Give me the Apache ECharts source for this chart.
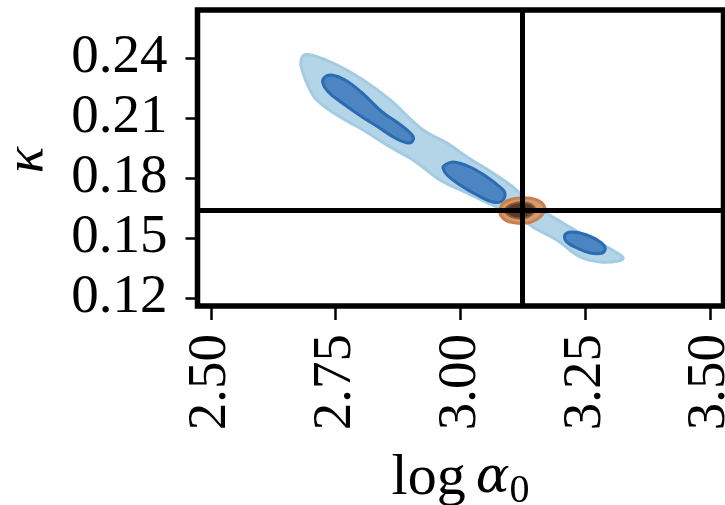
<!DOCTYPE html>
<html>
<head>
<meta charset="utf-8">
<script src="https://cdn.jsdelivr.net/npm/echarts@6/dist/echarts.min.js"></script>
<style>
  html, body { margin: 0; padding: 0; background: #fff; }
  #chart { width: 725px; height: 505px; }
</style>
</head>
<body>
<div id="chart"></div>
<script>
// tick positions
const xTicks = [2.5, 2.75, 3.0, 3.25, 3.5];
const yTicks = [0.12, 0.15, 0.18, 0.21, 0.24];

// reference point (crosshair)
const refX = 3.123;
const refY = 0.164;

// outer (light) contour of the posterior
const bandOuter = [
  [2.686, 0.2415], [2.708, 0.241], [2.753, 0.2365], [2.805, 0.229], [2.859, 0.219],
  [2.925, 0.204], [2.973, 0.1975], [3.013, 0.1905], [3.065, 0.1825], [3.105, 0.1755],
  [3.133, 0.169], [3.185, 0.1605], [3.240, 0.1525], [3.294, 0.1455], [3.320, 0.1415],
  [3.326, 0.140], [3.316, 0.1385], [3.280, 0.138], [3.240, 0.1405], [3.193, 0.149],
  [3.145, 0.1555], [3.119, 0.1605], [3.073, 0.1655], [3.013, 0.1725], [2.959, 0.179],
  [2.905, 0.189], [2.859, 0.1955], [2.805, 0.204], [2.759, 0.2105], [2.712, 0.219],
  [2.692, 0.2275], [2.684, 0.233], [2.680, 0.2375]
];

// inner (dark) contours
const coreA = [
  [2.728, 0.2305], [2.742, 0.2315], [2.769, 0.229], [2.803, 0.2225], [2.843, 0.213],
  [2.875, 0.2075], [2.903, 0.2015], [2.905, 0.199], [2.895, 0.1975], [2.869, 0.200],
  [2.835, 0.2055], [2.803, 0.2105], [2.763, 0.2175], [2.735, 0.223], [2.724, 0.2275]
];
const coreB = [
  [2.969, 0.1865], [2.985, 0.188], [3.019, 0.1855], [3.053, 0.1805], [3.079, 0.1755],
  [3.089, 0.1725], [3.083, 0.1685], [3.065, 0.168], [3.033, 0.1715], [2.999, 0.1765],
  [2.973, 0.1815], [2.965, 0.185]
];
const coreC = [
  [3.209, 0.1515], [3.223, 0.153], [3.253, 0.1515], [3.280, 0.148], [3.290, 0.145],
  [3.284, 0.1425], [3.260, 0.1425], [3.233, 0.145], [3.213, 0.148]
];

// true-value contours (orange)
const truthOuter = [
  [3.079, 0.164], [3.089, 0.168], [3.119, 0.170], [3.153, 0.169], [3.169, 0.165],
  [3.159, 0.1605], [3.133, 0.1575], [3.099, 0.158], [3.083, 0.1605]
];
const truthInner = [
  [3.089, 0.1638], [3.105, 0.1672], [3.135, 0.1675], [3.149, 0.1645],
  [3.135, 0.1605], [3.105, 0.1603]
];

const shapes = [
  { pts: bandOuter, fill: '#b4d5e8', stroke: '#a3cbe2', lw: 3 },
  { pts: coreA, fill: '#4d85c2', stroke: '#2a6cb3', lw: 3 },
  { pts: coreB, fill: '#4d85c2', stroke: '#2a6cb3', lw: 3 },
  { pts: coreC, fill: '#4d85c2', stroke: '#2a6cb3', lw: 3 },
  { pts: truthOuter, fill: '#d79a6e', stroke: '#c8804e', lw: 3 },
  { pts: truthInner, fill: '#5b3a26', stroke: '#8a5a3c', lw: 2 }
];

const font = 'Liberation Serif';
const chart = echarts.init(document.getElementById('chart'), null, { renderer: 'canvas' });

chart.setOption({
  animation: false,
  backgroundColor: '#fff',
  grid: {
    left: 197.5, right: 1.5, top: 10, bottom: 199,
    containLabel: false, outerBoundsMode: 'none',
    show: true, borderColor: '#000', borderWidth: 5.5, backgroundColor: 'transparent'
  },
  graphic: [
    {
      type: 'text', x: 28, y: 160, rotation: Math.PI / 2,
      style: {
        text: 'κ', fontFamily: font, fontSize: 55, fontStyle: 'italic', fill: '#000',
        align: 'center', verticalAlign: 'middle'
      }
    }
  ],
  xAxis: {
    type: 'value', min: 2.473, max: 3.527,
    axisLine: { show: false },
    splitLine: { show: false },
    axisTick: { show: true, customValues: xTicks, length: 14, lineStyle: { color: '#000', width: 2.5 } },
    axisLabel: {
      customValues: xTicks, rotate: 90, margin: 28,
      formatter: v => v.toFixed(2),
      fontFamily: font, fontSize: 55, color: '#000'
    },
    name: '{a|log}{s| }{b|α}{c|0}',
    nameLocation: 'middle', nameGap: 141,
    nameTextStyle: {
      rich: {
        a: { fontFamily: font, fontSize: 58, color: '#000' },
        s: { fontFamily: font, fontSize: 40, color: '#000' },
        b: { fontFamily: 'DejaVu Serif', fontSize: 50, fontStyle: 'italic', color: '#000' },
        c: { fontFamily: font, fontSize: 40, color: '#000', padding: [24, 0, 0, 0] }
      }
    }
  },
  yAxis: {
    type: 'value', min: 0.116, max: 0.264,
    axisLine: { show: false },
    splitLine: { show: false },
    axisTick: { show: true, customValues: yTicks, length: 12, lineStyle: { color: '#000', width: 2.5 } },
    axisLabel: {
      customValues: yTicks, margin: 30,
      formatter: v => v.toFixed(2),
      fontFamily: font, fontSize: 55, color: '#000'
    }
  },
  series: [
    {
      type: 'custom',
      clip: true,
      data: shapes.map(s => s.pts[0]),
      renderItem: function (params, api) {
        const s = shapes[params.dataIndex];
        const points = s.pts.map(p => api.coord(p));
        return {
          type: 'polygon',
          shape: { points: points, smooth: 0.4 },
          style: { fill: s.fill, stroke: s.stroke, lineWidth: s.lw }
        };
      },
      markLine: {
        silent: true,
        symbol: 'none',
        precision: 4,
        label: { show: false },
        lineStyle: { color: '#000', width: 5, type: 'solid' },
        data: [{ xAxis: refX }, { yAxis: refY }]
      }
    }
  ]
});
</script>
</body>
</html>
